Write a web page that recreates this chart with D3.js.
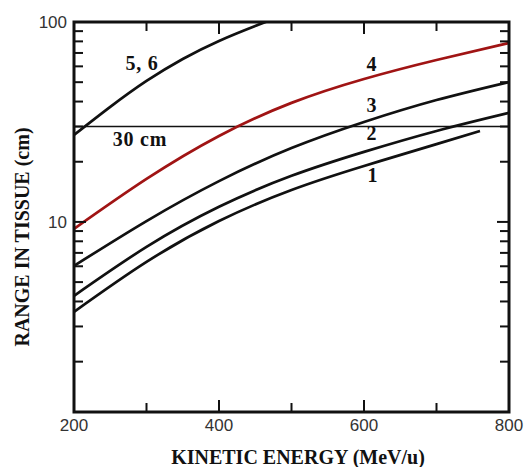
<!DOCTYPE html>
<html>
<head>
<meta charset="utf-8">
<script src="https://cdn.jsdelivr.net/npm/d3@7"></script>
<style>
  body { margin: 0; background: #fff; }
  .tick-label { font-family: "Liberation Sans", Arial, sans-serif; font-size: 17px; fill: #333; }
  .title { font-family: "Liberation Serif", "Times New Roman", serif; font-weight: bold; font-size: 20px; fill: #111; }
  .lbl { font-family: "Liberation Serif", "Times New Roman", serif; font-weight: bold; font-size: 20px; fill: #111; letter-spacing: 0.8px; }
</style>
</head>
<body>
<svg id="chart" width="525" height="467"></svg>
<script>
// kinetic energy (MeV/u) and range in tissue (cm)
const energy1 = [200, 300, 400, 500, 600, 700, 760]
const range1  = [3.55, 6.31, 10.1, 14.45, 19.05, 24.5, 28.5]

const energy2 = [200, 300, 400, 500, 600, 700, 800]
const range2  = [4.27, 7.5, 11.9, 17.0, 22.4, 28.5, 35.1]

const energy3 = [200, 300, 400, 500, 600, 700, 800]
const range3  = [6.03, 10.1, 16.0, 23.4, 31.6, 40.7, 50.1]

const energy4 = [200, 300, 400, 500, 600, 700, 800]
const range4  = [9.23, 16.4, 26.9, 39.4, 51.9, 64.6, 78.5]

const energy56 = [200, 250, 300, 350, 400, 450, 475]
const range56  = [27.2, 37.6, 50.7, 65.3, 80.4, 95.5, 103.5]

const refRange = 30
const xTicksMajor = [200, 400, 600, 800]
const xTicksMinor = [300, 500, 700]
const yTicksMajor = [10, 100]
const yTicksMinor = [2, 3, 4, 5, 6, 7, 8, 9, 20, 30, 40, 50, 60, 70, 80, 90]

const curves = [
  {e: energy1, r: range1, color: "#111"},
  {e: energy2, r: range2, color: "#111"},
  {e: energy3, r: range3, color: "#111"},
  {e: energy4, r: range4, color: "#a01414"},
  {e: energy56, r: range56, color: "#111"}
]

const labels = [
  {text: "5, 6", x: 142, y: 70},
  {text: "30 cm", x: 140, y: 146},
  {text: "4", x: 372, y: 71},
  {text: "3", x: 372, y: 112},
  {text: "2", x: 372, y: 140},
  {text: "1", x: 373, y: 182}
]

const pLeft = 74, pTop = 22, pRight = 509, pBottom = 412

const svg = d3.select("#chart")
const x = d3.scaleLinear().domain([200, 800]).range([pLeft, pRight])
const y = d3.scaleLog().domain([1.12, 100]).range([pBottom, pTop])

svg.append("clipPath").attr("id", "plot")
   .append("rect")
   .attr("x", pLeft).attr("y", pTop)
   .attr("width", pRight - pLeft).attr("height", pBottom - pTop)

const line = d3.line()
   .x(d => x(d[0]))
   .y(d => y(d[1]))
   .curve(d3.curveNatural)

const g = svg.append("g").attr("clip-path", "url(#plot)")

g.append("line")
  .attr("x1", pLeft).attr("x2", pRight)
  .attr("y1", y(refRange)).attr("y2", y(refRange))
  .attr("stroke", "#111").attr("stroke-width", 1.5)

curves.forEach(c => {
  g.append("path")
    .datum(c.e.map((e, i) => [e, c.r[i]]))
    .attr("d", line)
    .attr("fill", "none")
    .attr("stroke", c.color)
    .attr("stroke-width", 2.7)
})

// inward ticks on all four sides
const tickG = svg.append("g").attr("stroke", "#111").attr("stroke-width", 2)
function xTicks(vals, len){
  vals.forEach(v => {
    tickG.append("line").attr("x1", x(v)).attr("x2", x(v)).attr("y1", pBottom).attr("y2", pBottom - len)
    tickG.append("line").attr("x1", x(v)).attr("x2", x(v)).attr("y1", pTop).attr("y2", pTop + len)
  })
}
function yTicks(vals, len){
  vals.forEach(v => {
    tickG.append("line").attr("y1", y(v)).attr("y2", y(v)).attr("x1", pLeft).attr("x2", pLeft + len)
    tickG.append("line").attr("y1", y(v)).attr("y2", y(v)).attr("x1", pRight).attr("x2", pRight - len)
  })
}
xTicks(xTicksMajor, 12)
xTicks(xTicksMinor, 9)
yTicks(yTicksMajor, 12)
yTicks(yTicksMinor, 9)

svg.append("rect")
  .attr("x", pLeft).attr("y", pTop)
  .attr("width", pRight - pLeft).attr("height", pBottom - pTop)
  .attr("fill", "none").attr("stroke", "#111").attr("stroke-width", 3)

xTicksMajor.forEach(v => {
  svg.append("text").attr("class", "tick-label")
    .attr("x", x(v)).attr("y", 431)
    .attr("text-anchor", "middle")
    .text(v)
})
yTicksMajor.forEach(v => {
  svg.append("text").attr("class", "tick-label")
    .attr("x", 67).attr("y", y(v) + 6)
    .attr("text-anchor", "end")
    .text(v)
})

svg.append("text").attr("class", "title")
  .attr("x", 298).attr("y", 464)
  .attr("text-anchor", "middle")
  .text("KINETIC ENERGY (MeV/u)")

svg.append("text").attr("class", "title")
  .attr("transform", "translate(29,237) rotate(-90)")
  .attr("text-anchor", "middle")
  .text("RANGE IN TISSUE (cm)")

labels.forEach(l => {
  svg.append("text").attr("class", "lbl")
    .attr("x", l.x).attr("y", l.y)
    .attr("text-anchor", "middle")
    .text(l.text)
})
</script>
</body>
</html>
